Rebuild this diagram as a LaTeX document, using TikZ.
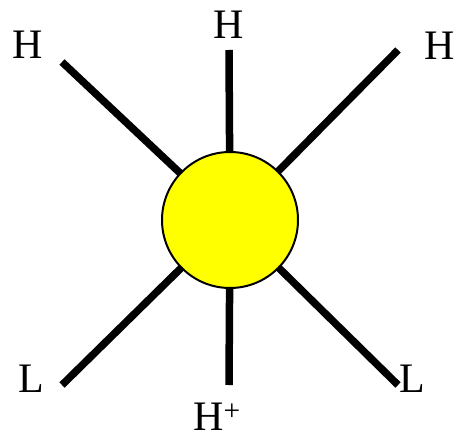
\documentclass[tikz,border=0pt]{standalone}
\usepackage{fontspec}
\setmainfont{Liberation Serif}
\usepackage{xcolor}
\definecolor{clCore}{HTML}{FFFF00}
\usepackage{tikz}
\usetikzlibrary{positioning,calc}
\tikzset{
  core/.style={circle, draw=black, line width=2pt, fill=clCore, minimum size=136pt, inner sep=0pt},
  arm/.style={line width=7.5pt, draw=black},
  tag/.style={font=\fontsize{42}{42}\selectfont, inner sep=0pt, anchor=center},
}

\begin{document}
\begin{tikzpicture}[x=1pt, y=-1pt]
  \useasboundingbox (0,0) rectangle (457,438);
  % arm ends
  \coordinate (eTL) at (62,62);
  \coordinate (eT)  at (229,50);
  \coordinate (eTR) at (398,50);
  \coordinate (eBL) at (62,385);
  \coordinate (eB)  at (229,385);
  \coordinate (eBR) at (398,385);
  % arms (drawn under the ball)
  \node[circle, minimum size=136pt, inner sep=0pt] (c0) at (230,220) {};
  \foreach \e in {eTL,eT,eTR,eBL,eB,eBR}
    \draw[arm] (c0.center) -- (\e);
  % ball
  \node[core] (ball) at (230,220) {};
  % labels
  \node[tag] (hTL) at (28,45)  {H};
  \node[tag] (hT)  at (229,25) {H};
  \node[tag] (hTR) at (440,46) {H};
  \node[tag] (lBL) at (31,379) {L};
  \node[tag] (lBR) at (412,379) {L};
  \node[tag, anchor=base] (hB) at (217,430) {H\textsuperscript{+}};
\end{tikzpicture}
\end{document}
